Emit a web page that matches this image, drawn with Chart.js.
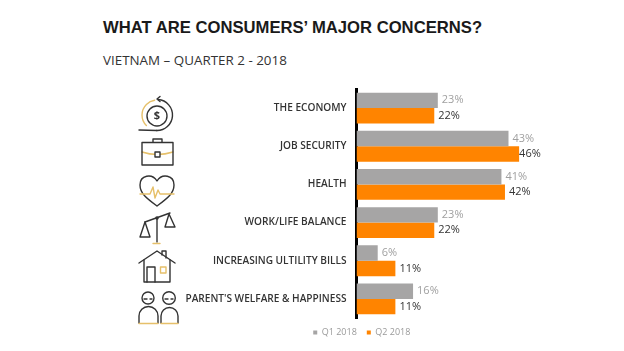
<!DOCTYPE html>
<html><head><meta charset="utf-8">
<script src="https://cdn.jsdelivr.net/npm/chart.js@4"></script>
<style>
html,body{margin:0;padding:0;background:#fff;width:624px;height:351px;overflow:hidden}
#wrap{position:relative;width:624px;height:351px}
canvas{position:absolute;left:0;top:0}
.t{position:absolute;white-space:nowrap;margin:0}
#title{left:103px;top:18px;font:bold 16.65px "Liberation Sans",Arial,sans-serif;color:#1a1a1a}
#sub{left:103px;top:51px;font:13.4px "Open Sans",sans-serif;color:#333}
</style></head><body>
<div id="wrap">
<h1 class="t" id="title">WHAT ARE CONSUMERS’ MAJOR CONCERNS?</h1>
<p class="t" id="sub">VIETNAM – QUARTER 2 - 2018</p>
<canvas id="c" width="624" height="351"></canvas>
</div>
<script>
const categories = ["THE ECONOMY","JOB SECURITY","HEALTH","WORK/LIFE BALANCE","INCREASING ULTILITY BILLS","PARENT'S WELFARE & HAPPINESS"];
const q1Values = [23,43,41,23,6,16];
const q2Values = [22,46,42,22,11,11];
const seriesNames = ["Q1 2018","Q2 2018"];

const GREY="#a6a5a5", ORANGE="#ff8400", DARK="#333333", GOLD="#e6c06a";

const valueLabels = {
  id:'valueLabels',
  afterDatasetsDraw(chart){
    const ctx=chart.ctx;
    ctx.save();
    ctx.textBaseline='middle'; ctx.textAlign='left';
    ctx.font='11px "Open Sans",sans-serif';
    chart.data.datasets.forEach((ds,i)=>{
      chart.getDatasetMeta(i).data.forEach((bar,j)=>{
        const v=ds.data[j];
        ctx.fillStyle = i===0 ? "#a0a0a0" : "#333";
        ctx.fillText(v+'%', bar.x+(v>=45?0:4), bar.y);
      });
    });
    ctx.restore();
  }
};

function line(ctx,pts,color){
  ctx.strokeStyle=color; ctx.beginPath();
  pts.forEach((p,i)=> i?ctx.lineTo(p[0],p[1]):ctx.moveTo(p[0],p[1]));
  ctx.stroke();
}
const icons = {
  id:'icons',
  afterDraw(chart){
    const c=chart.ctx;
    c.save(); c.lineWidth=1.4; c.lineCap='round'; c.lineJoin='round';
    // economy
    c.strokeStyle=DARK; c.beginPath(); c.arc(157,116,10,0,7); c.stroke();
    c.beginPath(); c.arc(157,115,15.5,-1.5,1.6); c.stroke();
    line(c,[[139,130],[157,130.5]],DARK);
    c.strokeStyle=GOLD; c.beginPath(); c.arc(157,115,15,Math.PI*.75,Math.PI*1.45); c.stroke();
    line(c,[[160,96.5],[157,99],[160,101.5]],DARK);
    c.fillStyle=DARK; c.font='bold 11px "Open Sans",sans-serif'; c.textAlign='center'; c.textBaseline='middle';
    c.fillText('$',157,116);
    // briefcase
    c.strokeStyle=GOLD; c.beginPath(); c.moveTo(142,152); c.quadraticCurveTo(157,157,173,152); c.stroke();
    c.strokeStyle=DARK; c.strokeRect(142,142.5,31,22.5);
    line(c,[[153,142],[153,139],[162,139],[162,142]],DARK);
    c.fillStyle='#fff'; c.fillRect(155,152,5,5); c.strokeRect(155,152,5,5);
    // heart
    c.strokeStyle=DARK; c.beginPath(); c.moveTo(157,206);
    c.bezierCurveTo(146,198,140,193,140,185); c.bezierCurveTo(140,175,152,173,157,181);
    c.bezierCurveTo(162,173,174,175,174,185); c.bezierCurveTo(174,193,168,198,157,206); c.stroke();
    line(c,[[140,194],[150,194],[153,187],[155,198],[158,190],[160,194],[174,194]],GOLD);
    // scales
    line(c,[[145,222],[170,213]],DARK);
    line(c,[[157,218],[157,242]],DARK);
    c.fillStyle=DARK; c.beginPath(); c.arc(157,218,1.8,0,7); c.fill();
    line(c,[[145,222],[140,237],[150,237],[145,222]],DARK);
    line(c,[[169,214],[165,227],[175,227],[169,214]],DARK);
    line(c,[[153,243.5],[160,243.5]],GOLD);
    // house
    line(c,[[139,263],[157,251],[175,263]],DARK);
    line(c,[[144,260],[144,282],[170,282],[170,260]],DARK);
    line(c,[[162,255],[162,251],[166,251],[166,258]],DARK);
    line(c,[[147,282],[147,267],[155,267],[155,282]],DARK);
    c.strokeStyle=GOLD; c.strokeRect(160.5,267,5.5,6);
    // parents
    c.strokeStyle=DARK;
    c.beginPath(); c.arc(148,298,6,0,7); c.stroke();
    c.beginPath(); c.arc(169,298,6.3,0,7); c.stroke();
    line(c,[[144,299],[147,299]],DARK); line(c,[[150,299],[152,299]],DARK);
    line(c,[[165,299],[168,299]],DARK); line(c,[[171,299],[173,299]],DARK);
    c.beginPath(); c.moveTo(139,323); c.lineTo(139,316); c.arc(148.5,316,9.5,Math.PI,0); c.lineTo(158,323); c.stroke();
    c.beginPath(); c.moveTo(161,323); c.lineTo(161,316); c.arc(169.5,316,8.5,Math.PI,0); c.lineTo(178,323); c.stroke();
    line(c,[[139,323.5],[158,323.5]],GOLD); line(c,[[161,323.5],[178,323.5]],GOLD);
    c.restore();
  }
};

new Chart(document.getElementById('c'),{
  type:'bar',
  data:{labels:categories,datasets:[
    {label:seriesNames[0],data:q1Values,backgroundColor:GREY,pointStyle:'rect'},
    {label:seriesNames[1],data:q2Values,backgroundColor:ORANGE,pointStyle:'rect'}
  ]},
  plugins:[valueLabels,icons],
  options:{
    indexAxis:'y',responsive:false,animation:false,
    datasets:{bar:{categoryPercentage:0.81,barPercentage:1}},
    layout:{padding:{left:155,right:55.4,top:89,bottom:4}},
    scales:{
      x:{display:false,min:0,max:60},
      y:{
        afterFit(s){s.width=201.5;},
        grid:{display:false,drawTicks:false},
        border:{display:true,color:'#000',width:3},
        ticks:{color:'#333',padding:10,autoSkip:false,font:{family:'"Open Sans",sans-serif',size:10.1,weight:'600'}}
      }
    },
    plugins:{
      tooltip:{enabled:false},
      legend:{position:'bottom',labels:{usePointStyle:true,pointStyle:'rect',boxWidth:4,boxHeight:4,padding:10,color:'#9a9a9a',font:{family:'"Open Sans",sans-serif',size:9}}}
    }
  }
});
</script>
</body></html>
